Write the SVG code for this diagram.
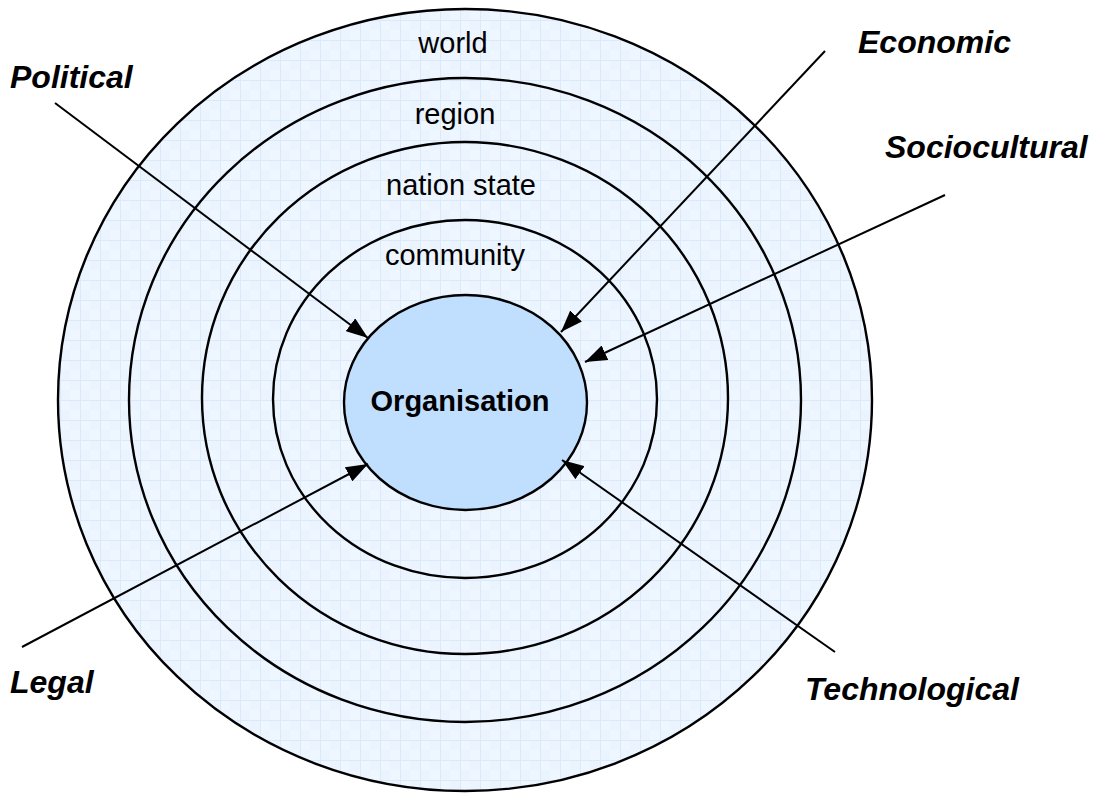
<svg xmlns="http://www.w3.org/2000/svg" width="1093" height="793" viewBox="0 0 1093 793">
<defs>
<pattern id="grid" width="20" height="20" patternUnits="userSpaceOnUse">
<rect width="20" height="20" fill="#eef6ff"/>
<rect x="10" width="10" height="10" fill="#eaf3fe"/>
<rect y="10" width="10" height="10" fill="#eaf3fe"/>
<path d="M0 0.5H20M0.5 0V20" stroke="#dbeafb" stroke-width="1" fill="none"/>
</pattern>
<marker id="ah" viewBox="0 0 22 16" refX="22" refY="8" markerWidth="22" markerHeight="16" markerUnits="userSpaceOnUse" orient="auto">
<path d="M0 0L22 8L0 16Z" fill="#000"/>
</marker>
<style>
.ring{fill:url(#grid);stroke:#000;stroke-width:2.4}
.lvl{font-family:"Liberation Sans",Arial,sans-serif;font-size:29px;fill:#000;text-anchor:middle}
.force{font-family:"Liberation Sans",Arial,sans-serif;font-size:32px;font-weight:bold;font-style:italic;fill:#000}
.conn{stroke:#000;stroke-width:2;fill:none;marker-end:url(#ah)}
</style>
</defs>
<rect width="1093" height="793" fill="#fff"/>
<g id="world"><ellipse class="ring" cx="465" cy="400" rx="407" ry="391"/><text class="lvl" x="453" y="53">world</text></g>
<g id="region"><ellipse class="ring" cx="465" cy="400" rx="336" ry="322"/><text class="lvl" x="455" y="124">region</text></g>
<g id="nation-state"><ellipse class="ring" cx="465" cy="398" rx="263" ry="256"/><text class="lvl" x="461" y="195">nation state</text></g>
<g id="community"><ellipse class="ring" cx="465" cy="399" rx="192" ry="179"/><text class="lvl" x="455" y="265">community</text></g>
<g id="organisation"><ellipse cx="465.5" cy="402.5" rx="121.5" ry="107.5" fill="#c0defd" stroke="#000" stroke-width="2.4"/><text class="lvl" x="460" y="411" font-weight="bold">Organisation</text></g>
<g id="connectors">
<line class="conn" x1="55" y1="103" x2="368" y2="338"/>
<line class="conn" x1="825" y1="51" x2="561" y2="332"/>
<line class="conn" x1="945" y1="195" x2="585" y2="362"/>
<line class="conn" x1="22" y1="647" x2="368" y2="464"/>
<line class="conn" x1="835" y1="652" x2="562" y2="460"/>
</g>
<g id="political"><text class="force" x="10" y="88">Political</text></g>
<g id="economic"><text class="force" x="858" y="53">Economic</text></g>
<g id="sociocultural"><text class="force" x="885" y="158">Sociocultural</text></g>
<g id="legal"><text class="force" x="10" y="693">Legal</text></g>
<g id="technological"><text class="force" x="805" y="700">Technological</text></g>
</svg>
